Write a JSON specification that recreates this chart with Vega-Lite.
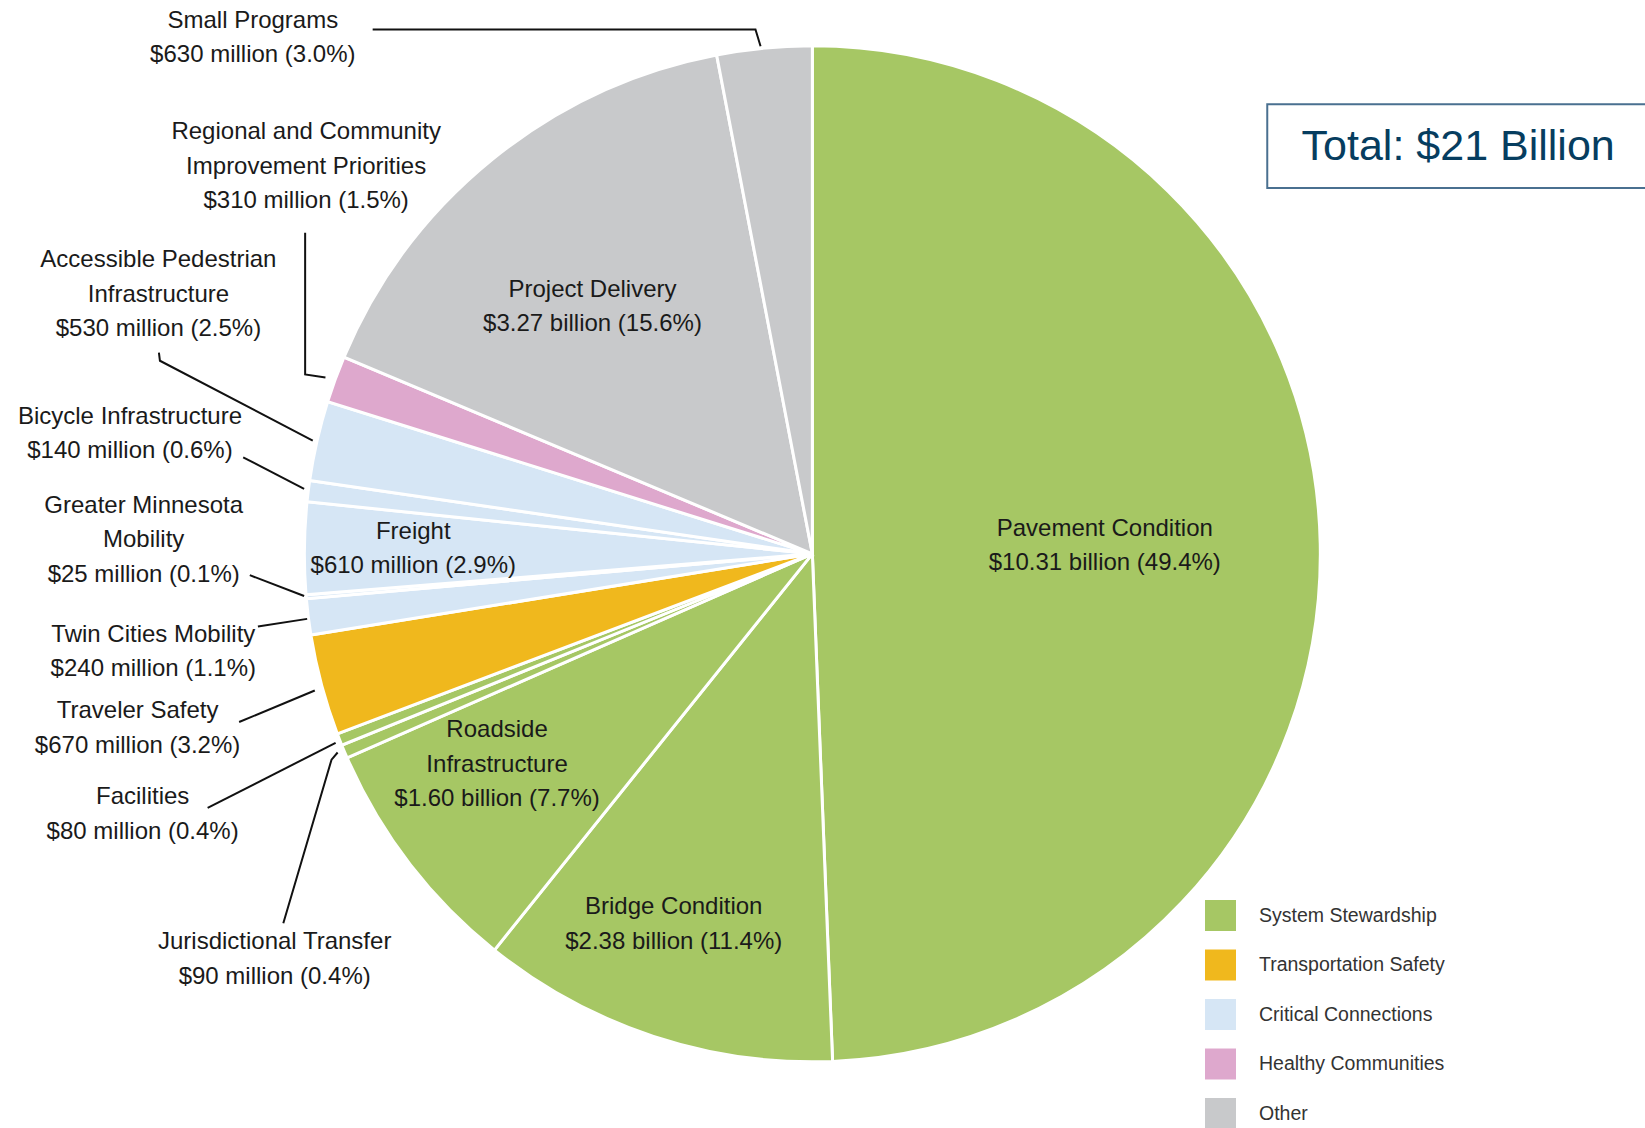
{
  "$schema": "https://vega.github.io/schema/vega-lite/v6.json",
  "width": 1645,
  "height": 1128,
  "padding": 0,
  "autosize": {"type": "none"},
  "background": "white",
  "config": {"view": {"stroke": null}, "font": "Liberation Sans"},
  "datasets": {
    "slices": [
      {"rank": 1, "category": "Pavement Condition", "group": "System Stewardship", "value": 10310, "label": "Pavement Condition\n$10.31 billion (49.4%)", "lx": 57.6, "ly": 4.9},
      {"rank": 2, "category": "Bridge Condition", "group": "System Stewardship", "value": 2380, "label": "Bridge Condition\n$2.38 billion (11.4%)", "lx": -27.3, "ly": -69.6},
      {"rank": 3, "category": "Roadside Infrastructure", "group": "System Stewardship", "value": 1600, "label": "Roadside\nInfrastructure\n$1.60 billion (7.7%)", "lx": -62.1, "ly": -34.7},
      {"rank": 4, "category": "Jurisdictional Transfer", "group": "System Stewardship", "value": 90, "label": "Jurisdictional Transfer\n$90 million (0.4%)", "lx": -105.9, "ly": -76.4},
      {"rank": 5, "category": "Facilities", "group": "System Stewardship", "value": 80, "label": "Facilities\n$80 million (0.4%)", "lx": -131.9, "ly": -47.9},
      {"rank": 6, "category": "Traveler Safety", "group": "Transportation Safety", "value": 670, "label": "Traveler Safety\n$670 million (3.2%)", "lx": -132.9, "ly": -31.0},
      {"rank": 7, "category": "Twin Cities Mobility", "group": "Critical Connections", "value": 240, "label": "Twin Cities Mobility\n$240 million (1.1%)", "lx": -129.8, "ly": -15.9},
      {"rank": 8, "category": "Greater Minnesota Mobility", "group": "Critical Connections", "value": 25, "label": "Greater Minnesota\nMobility\n$25 million (0.1%)", "lx": -131.7, "ly": 9.5},
      {"rank": 9, "category": "Freight", "group": "Critical Connections", "value": 610, "label": "Freight\n$610 million (2.9%)", "lx": -78.6, "ly": 4.3},
      {"rank": 10, "category": "Bicycle Infrastructure", "group": "Critical Connections", "value": 140, "label": "Bicycle Infrastructure\n$140 million (0.6%)", "lx": -134.4, "ly": 27.0},
      {"rank": 11, "category": "Accessible Pedestrian Infrastructure", "group": "Critical Connections", "value": 530, "label": "Accessible Pedestrian\nInfrastructure\n$530 million (2.5%)", "lx": -128.8, "ly": 57.8},
      {"rank": 12, "category": "Regional and Community Improvement Priorities", "group": "Healthy Communities", "value": 310, "label": "Regional and Community\nImprovement Priorities\n$310 million (1.5%)", "lx": -99.7, "ly": 83.0},
      {"rank": 13, "category": "Project Delivery", "group": "Other", "value": 3270, "label": "Project Delivery\n$3.27 billion (15.6%)", "lx": -43.3, "ly": 52.0},
      {"rank": 14, "category": "Small Programs", "group": "Other", "value": 630, "label": "Small Programs\n$630 million (3.0%)", "lx": -110.2, "ly": 104.9}
    ],
    "leaders": [
      {"category": "Small Programs", "seq": 1, "lx": -86.6, "ly": 103.2},
      {"category": "Small Programs", "seq": 2, "lx": -11.2, "ly": 103.2},
      {"category": "Small Programs", "seq": 3, "lx": -10.2, "ly": 99.9},
      {"category": "Regional", "seq": 1, "lx": -99.9, "ly": 63.2},
      {"category": "Regional", "seq": 2, "lx": -99.9, "ly": 35.3},
      {"category": "Regional", "seq": 3, "lx": -95.9, "ly": 34.7},
      {"category": "Accessible", "seq": 1, "lx": -128.7, "ly": 39.6},
      {"category": "Accessible", "seq": 2, "lx": -128.5, "ly": 38.0},
      {"category": "Accessible", "seq": 3, "lx": -98.4, "ly": 22.3},
      {"category": "Bicycle", "seq": 1, "lx": -112.1, "ly": 19.0},
      {"category": "Bicycle", "seq": 2, "lx": -100.1, "ly": 12.8},
      {"category": "Greater MN", "seq": 1, "lx": -110.8, "ly": -4.2},
      {"category": "Greater MN", "seq": 2, "lx": -100.1, "ly": -8.3},
      {"category": "Twin Cities", "seq": 1, "lx": -109.2, "ly": -14.3},
      {"category": "Twin Cities", "seq": 2, "lx": -99.5, "ly": -12.8},
      {"category": "Traveler", "seq": 1, "lx": -112.9, "ly": -33.1},
      {"category": "Traveler", "seq": 2, "lx": -98.0, "ly": -26.9},
      {"category": "Facilities", "seq": 1, "lx": -119.1, "ly": -50.0},
      {"category": "Facilities", "seq": 2, "lx": -93.9, "ly": -37.2},
      {"category": "Jurisdictional", "seq": 1, "lx": -104.2, "ly": -72.7},
      {"category": "Jurisdictional", "seq": 2, "lx": -94.7, "ly": -40.5},
      {"category": "Jurisdictional", "seq": 3, "lx": -93.5, "ly": -39.1}
    ],
    "notes": [{"text": "Total: $21 Billion"}]
  },
  "layer": [
    {
      "data": {"name": "slices"},
      "mark": {"type": "arc", "outerRadius": 508, "stroke": "white", "strokeWidth": 3},
      "encoding": {
        "theta": {"field": "value", "type": "quantitative", "stack": true},
        "order": {"field": "rank", "type": "quantitative"},
        "color": {
          "field": "group",
          "type": "nominal",
          "scale": {
            "domain": ["System Stewardship", "Transportation Safety", "Critical Connections", "Healthy Communities", "Other"],
            "range": ["#a6c764", "#f0b81d", "#d6e6f5", "#dea8cd", "#c8c9cb"]
          },
          "legend": {
            "title": null,
            "orient": "none",
            "legendX": 1205,
            "legendY": 900,
            "padding": 0,
            "symbolType": "square",
            "symbolSize": 961,
            "symbolStrokeWidth": 0,
            "symbolOpacity": 1,
            "labelFontSize": 19.5,
            "labelColor": "#333333",
            "labelFont": "Liberation Sans",
            "labelOffset": 23,
            "labelLimit": 400,
            "rowPadding": 18.5
          }
        },
        "x": {"datum": 0, "type": "quantitative", "scale": {"domain": [-160, 164], "nice": false, "zero": false}, "axis": null},
        "y": {"datum": 0, "type": "quantitative", "scale": {"domain": [-113, 109], "nice": false, "zero": false}, "axis": null}
      }
    },
    {
      "data": {"name": "leaders"},
      "mark": {"type": "line", "stroke": "#111111", "strokeWidth": 2},
      "encoding": {
        "x": {"field": "lx", "type": "quantitative"},
        "y": {"field": "ly", "type": "quantitative"},
        "detail": {"field": "category"},
        "order": {"field": "seq", "type": "quantitative"}
      }
    },
    {
      "data": {"name": "slices"},
      "mark": {"type": "text", "lineBreak": "\n", "fontSize": 24, "lineHeight": 34.5, "align": "center", "baseline": "middle", "color": "#1a1a1a"},
      "encoding": {
        "x": {"field": "lx", "type": "quantitative"},
        "y": {"field": "ly", "type": "quantitative"},
        "text": {"field": "label"}
      }
    },
    {
      "data": {"name": "notes"},
      "mark": {"type": "rect", "fill": null, "fillOpacity": 0, "stroke": "#4a7090", "strokeWidth": 2},
      "encoding": {
        "x": {"datum": 89.6, "type": "quantitative"},
        "x2": {"datum": 166},
        "y": {"datum": 88.5, "type": "quantitative"},
        "y2": {"datum": 72.0}
      }
    },
    {
      "data": {"name": "notes"},
      "mark": {"type": "text", "fontSize": 43, "align": "center", "baseline": "middle", "color": "#063d5f"},
      "encoding": {
        "x": {"datum": 127.2, "type": "quantitative"},
        "y": {"datum": 80.1, "type": "quantitative"},
        "text": {"field": "text"}
      }
    }
  ]
}
